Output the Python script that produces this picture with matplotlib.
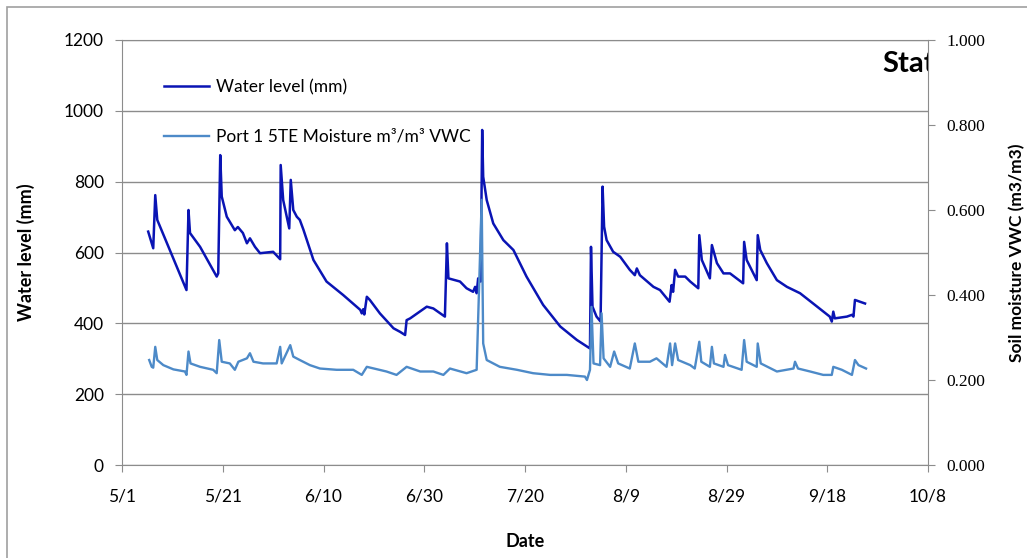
import matplotlib
matplotlib.use("Agg")
import matplotlib.pyplot as plt
from matplotlib.patches import Rectangle
from matplotlib.transforms import IdentityTransform

# Days since 5/1 and water level (mm)
WL_DAY = [5.2, 6.2, 6.6, 7.0, 12.8, 13.2, 13.5, 15.5, 18.8, 19.1, 19.5, 19.8,
          20.8, 22.4, 23.0, 24.0, 24.8, 25.4, 26.4, 27.4, 30.0, 31.4, 31.5, 32.0,
          33.2, 33.5, 34.0, 34.7, 35.3, 36.0, 38.0, 40.6, 43.9, 47.3, 47.6, 47.9,
          48.1, 48.6, 49.2, 51.2, 53.9, 55.2, 56.2, 56.5, 57.2, 60.5, 61.8, 64.1,
          64.5, 64.8, 67.1, 68.4, 69.7, 70.1, 70.4, 70.7, 71.2, 71.5, 71.7, 72.4,
          73.7, 75.7, 77.7, 80.3, 83.6, 87.0, 90.3, 92.9, 93.1, 93.4, 94.2, 95.0,
          95.4, 95.7, 96.2, 97.5, 98.9, 100.8, 101.8, 102.2, 102.8, 105.5, 106.8,
          108.7, 109.1, 109.4, 109.8, 110.4, 111.8, 112.8, 114.4, 114.6, 115.1,
          116.7, 117.1, 118.1, 119.4, 120.7, 123.3, 123.5, 124.0, 126.0, 126.2,
          126.7, 128.0, 130.0, 132.0, 134.6, 137.2, 140.5, 140.9, 141.2, 141.5,
          143.9, 144.9, 145.2, 145.5, 146.5, 147.5]
WL_MM = [659, 612, 762, 692, 494, 720, 655, 616, 532, 541, 875, 758,
         701, 663, 672, 655, 626, 640, 616, 598, 602, 581, 847, 748,
         668, 805, 720, 701, 692, 665, 579, 518, 480, 438, 428, 440,
         425, 475, 466, 428, 386, 376, 367, 409, 414, 447, 442, 419,
         626, 527, 518, 499, 489, 503, 485, 527, 518, 946, 814, 748,
         682, 635, 607, 532, 452, 391, 353, 329, 616, 447, 419, 405,
         786, 673, 635, 602, 588, 551, 536, 555, 536, 503, 494,
         461, 508, 489, 551, 532, 532, 518, 499, 649, 579,
         527, 621, 570, 541, 541, 513, 630, 579, 522, 649,
         607, 570, 522, 503, 485, 456, 419, 405, 433, 414,
         419, 424, 419, 466, 461, 456]

# Days since 5/1 and soil moisture (m3/m3)
SM_DAY = [5.4, 5.9, 6.2, 6.6, 7.0, 8.2, 10.2, 12.5, 12.8, 13.2, 13.6, 15.5,
          18.1, 18.8, 19.3, 19.8, 21.4, 22.4, 23.1, 24.8, 25.4, 26.1, 28.0, 30.7,
          31.4, 31.7, 33.4, 34.0, 35.3, 37.3, 39.3, 42.6, 45.9, 47.6, 48.6, 52.5,
          54.5, 56.5, 59.2, 61.8, 63.8, 65.1, 68.4, 70.4, 71.4, 71.7, 72.4, 75.0,
          78.4, 81.6, 85.0, 88.3, 91.9, 92.3, 92.9, 93.2, 93.6, 94.9, 95.2, 95.6,
          96.9, 97.7, 98.5, 100.8, 101.8, 102.5, 104.8, 106.1, 108.1, 108.8, 109.2,
          109.8, 110.4, 112.8, 113.7, 114.6, 115.0, 116.7, 117.1, 117.5, 119.4,
          119.7, 120.3, 123.0, 123.5, 124.0, 126.0, 126.2, 126.8, 130.0, 133.3,
          133.6, 134.2, 136.6, 139.2, 140.9, 141.2, 142.9, 144.9, 145.5, 146.2, 147.7]
SM_VWC = [0.247, 0.231, 0.229, 0.278, 0.247, 0.235, 0.225, 0.220, 0.212, 0.267, 0.239, 0.231,
          0.224, 0.216, 0.294, 0.243, 0.239, 0.224, 0.243, 0.251, 0.263, 0.243, 0.239, 0.239,
          0.278, 0.239, 0.282, 0.255, 0.247, 0.235, 0.227, 0.224, 0.224, 0.212, 0.231, 0.220,
          0.212, 0.231, 0.220, 0.220, 0.212, 0.227, 0.216, 0.224, 0.624, 0.286, 0.247, 0.231,
          0.224, 0.216, 0.212, 0.212, 0.208, 0.200, 0.224, 0.372, 0.239, 0.235, 0.357, 0.251,
          0.231, 0.267, 0.239, 0.227, 0.286, 0.243, 0.243, 0.251, 0.231, 0.286, 0.235,
          0.286, 0.247, 0.235, 0.227, 0.290, 0.243, 0.231, 0.278, 0.239, 0.231,
          0.259, 0.235, 0.224, 0.294, 0.243, 0.231, 0.286, 0.239, 0.220, 0.227,
          0.243, 0.227, 0.220, 0.212, 0.212, 0.231, 0.224, 0.212, 0.247, 0.235, 0.227]

X_TICKS = [0, 20, 40, 60, 80, 100, 120, 140, 160]
X_LABELS = ["5/1", "5/21", "6/10", "6/30", "7/20", "8/9", "8/29", "9/18", "10/8"]
WL_TICKS = [0, 200, 400, 600, 800, 1000, 1200]
SM_TICKS = [0.0, 0.2, 0.4, 0.6, 0.8, 1.0]

SANS = ["Lato", "DejaVu Sans"]
SERIF = ["Liberation Serif", "DejaVu Serif"]
GRID = "#8c8c8c"
WL_COLOR = "#0a14b4"
SM_COLOR = "#4d8ac8"

fig = plt.figure(figsize=(10.27, 5.58), dpi=100)
fig.patch.set_facecolor("white")
fig.patches.append(Rectangle((7 / 1027, -0.1), 1.2, 1 - 7 / 558 + 0.1, transform=fig.transFigure,
                             fill=False, edgecolor="#a0a0a0", lw=1.2))

ax = fig.add_axes([122 / 1027, 1 - 465 / 558, 806 / 1027, 425 / 558])
ax2 = ax.twinx()

l1, = ax.plot(WL_DAY, WL_MM, color=WL_COLOR, lw=1.8, label="Water level (mm)")
l2, = ax2.plot(SM_DAY, SM_VWC, color=SM_COLOR, lw=1.7, label="Port 1 5TE Moisture m³/m³ VWC")

ax.set_xlim(0, 160)
ax.set_ylim(0, 1200)
ax2.set_ylim(0, 1.0)

ax.set_xticks(X_TICKS)
ax.set_xticklabels(X_LABELS, family=SANS, fontsize=12.5)
ax.set_yticks(WL_TICKS)
ax.set_yticklabels([str(v) for v in WL_TICKS], family=SANS, fontsize=12.5)
ax2.set_yticks(SM_TICKS)
ax2.set_yticklabels([f"{v:.3f}" for v in SM_TICKS], family=SERIF, fontsize=12.5)

ax.tick_params(axis="both", direction="out", length=5, color=GRID, pad=8)
ax.tick_params(axis="x", pad=12)
ax2.tick_params(axis="y", direction="out", length=5, color=GRID, pad=8)

ax.grid(axis="y", color=GRID, lw=1)
ax.set_axisbelow(True)
for s in ["left", "bottom", "top"]:
    ax.spines[s].set_color(GRID)
ax.spines["right"].set_visible(False)
for s in ["left", "bottom", "top"]:
    ax2.spines[s].set_visible(False)
ax2.spines["right"].set_color(GRID)

ax.set_ylabel("Water level (mm)", family=SANS, fontsize=13, fontweight="bold")
ax.yaxis.set_label_coords(-0.108, 0.5)
ax2.set_ylabel("Soil moisture VWC (m3/m3)", family=SANS, fontsize=12.5, fontweight="bold")
ax2.yaxis.set_label_coords(1.1, 0.5)
ax.set_xlabel("Date", family=SANS, fontsize=13, fontweight="bold")
ax.xaxis.set_label_coords(0.5, -0.16)

# title box cut off by the plot area
ax.text(882, 558 - 72, "Station", transform=IdentityTransform(), family=SANS, fontsize=21,
        fontweight="bold", ha="left", va="baseline", clip_on=True)

leg = ax2.legend([l1, l2], [l1.get_label(), l2.get_label()], loc="upper left",
                 bbox_to_anchor=(157 / 1027, 1 - 72 / 558), bbox_transform=fig.transFigure,
                 frameon=False, prop={"family": SANS, "size": 12.5}, handlelength=2.6,
                 labelspacing=1.95, handletextpad=0.4, borderaxespad=0)

fig.savefig("out.png", dpi=100, facecolor="white")
